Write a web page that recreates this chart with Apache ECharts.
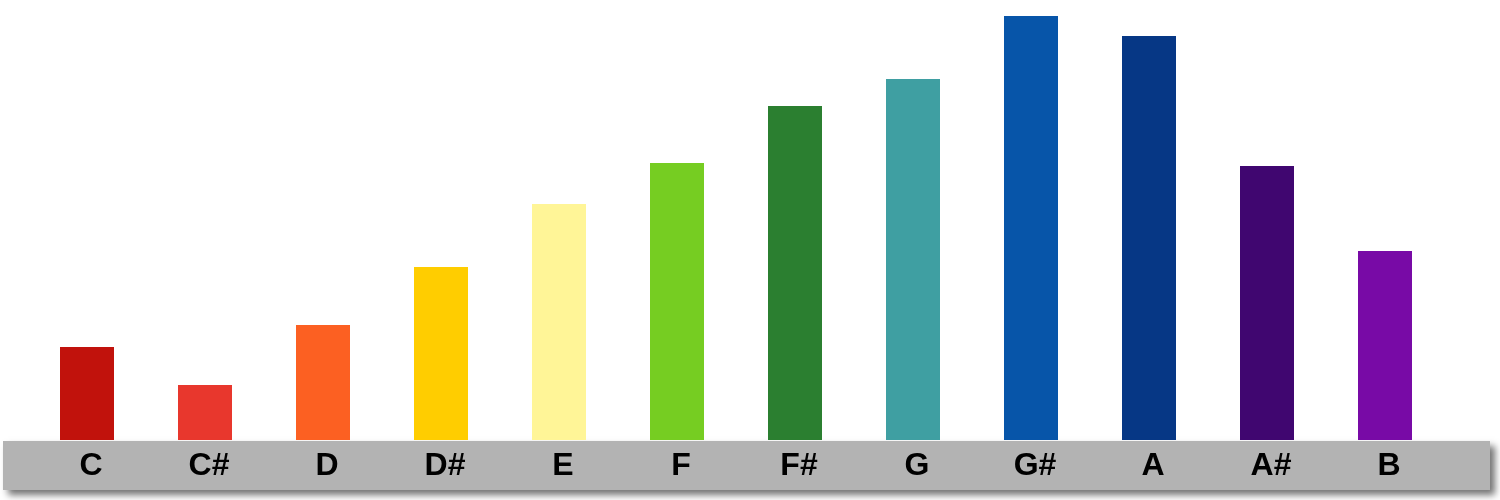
<!DOCTYPE html>
<html>
<head>
<meta charset="utf-8">
<script src="https://cdn.jsdelivr.net/npm/echarts@6/dist/echarts.min.js"></script>
<style>html,body{margin:0;padding:0;background:#fff}#c{width:1500px;height:500px}</style>
</head>
<body>
<div id="c"></div>
<script>
const notes = ['C','C#','D','D#','E','F','F#','G','G#','A','A#','B'];
const values = [93, 55, 115, 173, 236, 277, 334, 361, 424, 404, 274, 189];
const colors = ['#c1120c','#e8372d','#fc6022','#ffcd00','#fff597','#76cd22','#2b7f30','#3f9fa2','#0755a9','#063785','#400670','#780aa6'];

const chart = echarts.init(document.getElementById('c'));
chart.setOption({
  animation: false,
  backgroundColor: '#fff',
  graphic: [{
    type: 'rect',
    z: -10,
    shape: {x: 3, y: 441, width: 1487, height: 49},
    style: {fill: '#b3b3b3', shadowBlur: 7, shadowOffsetX: 5, shadowOffsetY: 5, shadowColor: 'rgba(0,0,0,0.55)'}
  }],
  grid: {left: 28, right: 56, top: 16, bottom: 60, containLabel: false},
  xAxis: {
    type: 'category',
    data: notes,
    axisLine: {show: false},
    axisTick: {show: false},
    axisLabel: {
      margin: 26,
      verticalAlign: 'middle',
      padding: [0, 0, 0, 8],
      fontFamily: 'Liberation Sans, Arial, sans-serif',
      fontWeight: 'bold',
      fontSize: 32,
      color: '#000'
    }
  },
  yAxis: {
    type: 'value',
    min: 0,
    max: 424,
    show: false,
    splitLine: {show: false}
  },
  series: [{
    type: 'bar',
    barWidth: 54,
    data: values.map((v, i) => ({value: v, itemStyle: {color: colors[i]}}))
  }]
});
</script>
</body>
</html>
